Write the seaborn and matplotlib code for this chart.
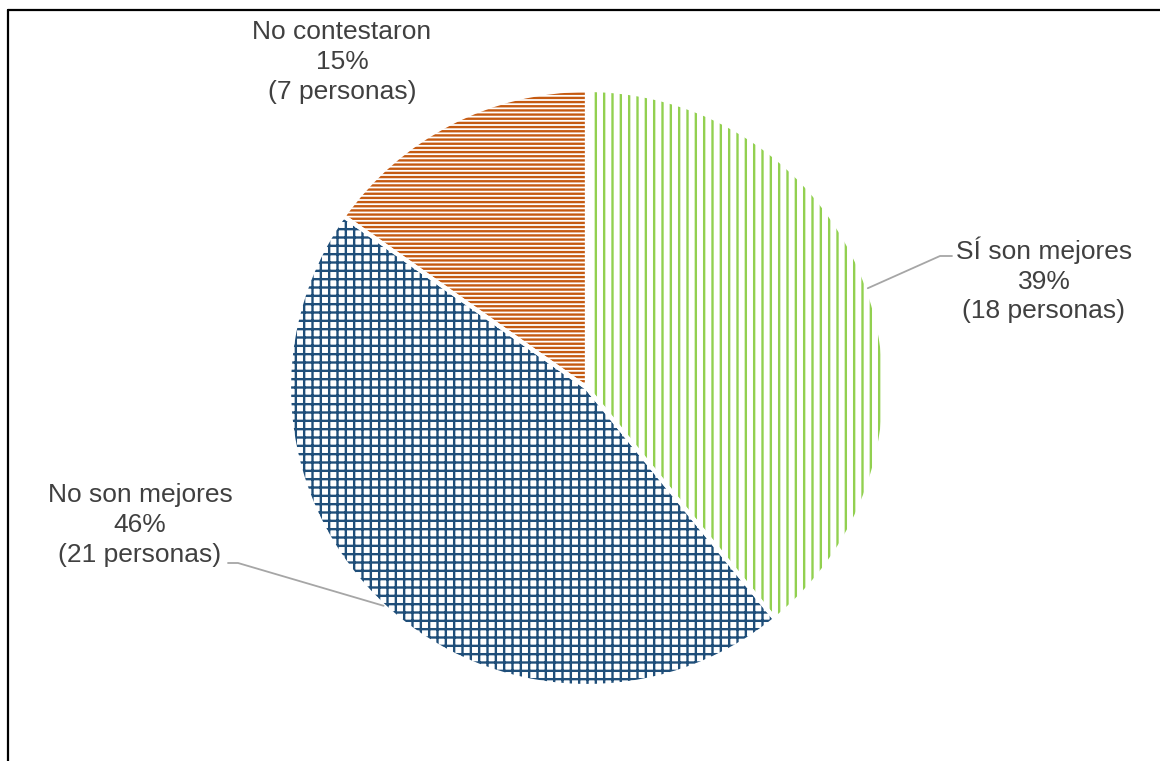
import numpy as np
import matplotlib
matplotlib.use("Agg")
import matplotlib.pyplot as plt
from matplotlib.lines import Line2D
import seaborn as sns

# Survey answers
categories = ["SÍ son mejores", "No son mejores", "No contestaron"]
personas = [18, 21, 7]
porcentajes = [39, 46, 15]
colores = ["#92D050", "#1F4E79", "#C55A11"]
tramas = ["||", "++", "----"]

sns.set_theme(style="white")
plt.rcParams["font.family"] = ["Liberation Sans", "DejaVu Sans"]
plt.rcParams["hatch.linewidth"] = 1.7

W, H = 1160, 761
fig = plt.figure(figsize=(W / 100, H / 100), dpi=100)
fig.patch.set_facecolor("white")

# pie centre and radius in pixels
cx, cy, r = 587, 388, 298
ax = fig.add_axes([(cx - r) / W, (H - cy - r) / H, 2 * r / W, 2 * r / H])

# hatched wedges (hatch takes the edge colour)
wedges, _ = ax.pie(personas, startangle=90, counterclock=False, radius=1,
                   colors=["white"] * 3, wedgeprops=dict(linewidth=0))
for w, c, h in zip(wedges, colores, tramas):
    w.set_edgecolor(c)
    w.set_hatch(h)

# white separators between wedges
ax.pie(personas, startangle=90, counterclock=False, radius=1,
       wedgeprops=dict(facecolor="none", edgecolor="white", linewidth=3))

ax.set_xlim(-1, 1)
ax.set_ylim(-1, 1)
ax.set_aspect("equal")
ax.axis("off")

txt_color = "#404040"
lead_color = "#A6A6A6"


def px(x, y):
    return x / W, 1 - y / H


# label block centres and leader elbows (pixels)
label_pos = [(1044, 280), (140, 525), (342, 62)]
elbows = [((940, 256), (952, 256)), ((238, 563), (228, 563)), None]

total = sum(personas)
start = 90.0
for i, (cat, pct, n) in enumerate(zip(categories, porcentajes, personas)):
    span = 360.0 * n / total
    mid = np.deg2rad(start - span / 2)
    start -= span
    lx, ly = label_pos[i]
    fig.text(*px(lx, ly), f"{cat}\n{pct}%\n({n} personas)", ha="center",
             va="center", multialignment="center", fontsize=19,
             color=txt_color, linespacing=1.3)
    if elbows[i] is not None:
        (ex, ey), (hx, hy) = elbows[i]
        wx = cx + r * np.cos(mid)
        wy = cy - r * np.sin(mid)
        xs = [wx, ex, hx]
        ys = [wy, ey, hy]
        fig.add_artist(Line2D([x / W for x in xs], [1 - y / H for y in ys],
                              color=lead_color, lw=1.3))

# outer frame
fig.add_artist(Line2D([8 / W, 8 / W], [0, 1 - 10 / H], color="black", lw=1.6))
fig.add_artist(Line2D([8 / W, 1], [1 - 10 / H, 1 - 10 / H], color="black", lw=1.6))

fig.savefig("out.png", dpi=100, facecolor="white")
